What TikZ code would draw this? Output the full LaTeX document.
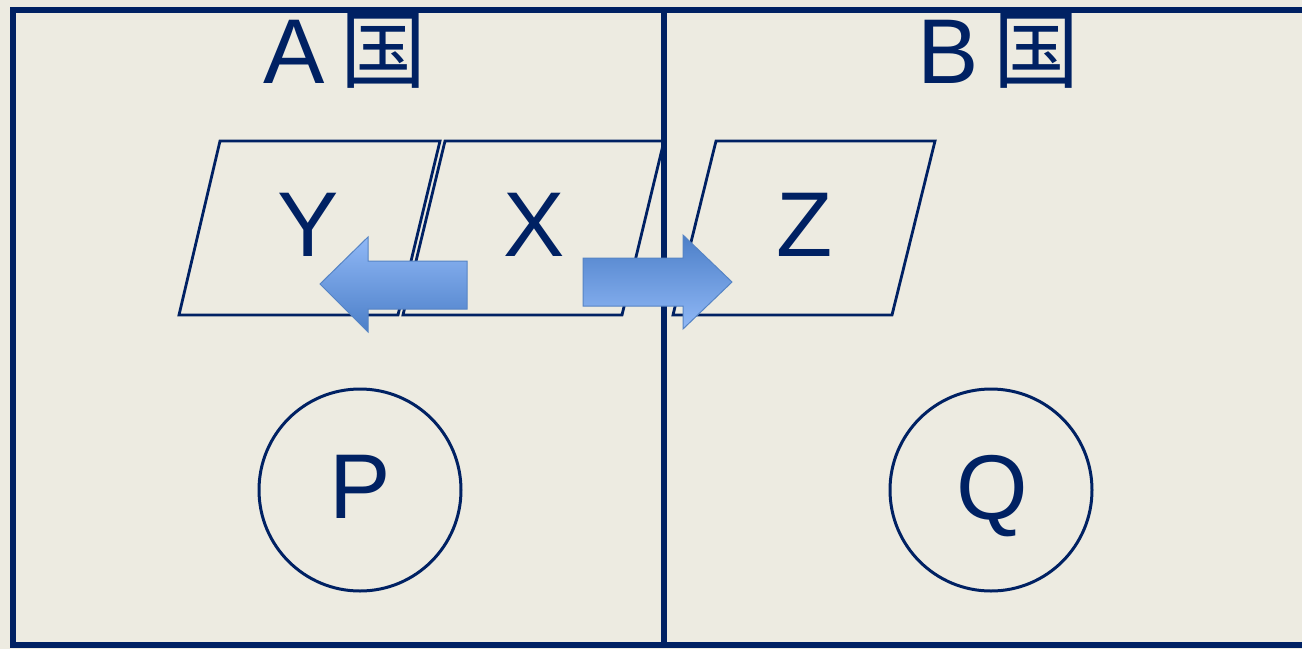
\documentclass[tikz,border=0pt]{standalone}
\usepackage{fontspec}
\setmainfont{Liberation Sans}
\newfontfamily\cjkfont{Noto Sans CJK JP}
\definecolor{bgc}{HTML}{EDEBE1}
\definecolor{navy}{HTML}{002163}
\definecolor{arrlight}{HTML}{90B8F6}
\definecolor{arrdark}{HTML}{4C7FC8}
\definecolor{arredge}{HTML}{5684C4}
\tikzset{
  frame/.style={draw=navy, line width=5.5pt},
  para/.style={draw=navy, line width=2.8pt, line join=miter},
  circ/.style={draw=navy, line width=3pt, circle, minimum size=202pt, inner sep=0pt},
  lab/.style={text=navy, inner sep=0pt, font=\fontsize{92}{92}\selectfont},
  cjklab/.style={text=navy, inner sep=0pt, font=\cjkfont\fontsize{86}{86}\selectfont},
  blockarrow/.style={draw=arredge, line width=1pt, line join=miter}
}
\begin{document}
\begin{tikzpicture}[x=1pt,y=-1pt]
\useasboundingbox (0,0) rectangle (1302,649);
\fill[bgc] (0,0) rectangle (1302,649);
% parallelograms
\draw[para] (179,315) -- (398,315) -- (440,141) -- (220,141) -- cycle;
\draw[para] (403,315) -- (622,315) -- (664,141) -- (445,141) -- cycle;
\draw[para] (673,315) -- (892,315) -- (935,141) -- (716,141) -- cycle;
% letters
\node[lab, anchor=base] (y) at (308,256) {Y};
\node[lab, anchor=base] (x) at (534,256) {X};
\node[lab, anchor=base] (z) at (805,256) {Z};
% circles
\node[circ] (p) at (360,490) {};
\node[circ] (q) at (991,490) {};
\node[lab, anchor=base] (pl) at (360,518) {P};
\node[lab, anchor=base] (ql) at (992,519) {Q};
% titles
\node[lab, anchor=base] (a) at (294,83) {A};
\node[cjklab] (ka) at (383,51) {国};
\node[lab, anchor=base] (b) at (948,83) {B};
\node[cjklab] (kb) at (1036,51) {国};
% frame
\begin{scope}
\clip (0,0) rectangle (1302,649);
\draw[frame] (13,10) rectangle (1320,645);
\draw[frame] (664,10) -- (664,645);
\end{scope}
% block arrows
\shade[top color=arrlight, bottom color=arrdark]
  (320,284) -- (368,237) -- (368,261) -- (467,261) -- (467,309) -- (368,309) -- (368,332) -- cycle;
\draw[blockarrow]
  (320,284) -- (368,237) -- (368,261) -- (467,261) -- (467,309) -- (368,309) -- (368,332) -- cycle;
\shade[top color=arrdark, bottom color=arrlight]
  (732,282) -- (683,235) -- (683,258) -- (583,258) -- (583,306) -- (683,306) -- (683,329) -- cycle;
\draw[blockarrow]
  (732,282) -- (683,235) -- (683,258) -- (583,258) -- (583,306) -- (683,306) -- (683,329) -- cycle;
\end{tikzpicture}
\end{document}
